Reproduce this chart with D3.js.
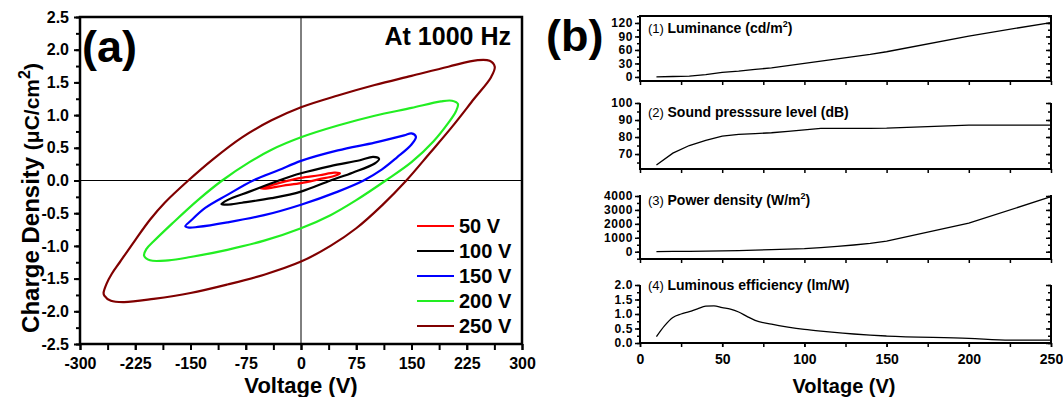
<!DOCTYPE html>
<html>
<head>
<meta charset="utf-8">
<script src="https://cdn.jsdelivr.net/npm/d3@7"></script>
<style>
  body { margin: 0; background: #fff; }
  svg { display: block; font-family: "Liberation Sans", Arial, sans-serif; }
</style>
</head>
<body>
<svg id="chart" width="1063" height="397"></svg>
<script>
// ---- panel (a): hysteresis loops, [voltage, charge density] ----
var loop50 = [[-55,-0.12],[-40,-0.07],[-20,-0.01],[0,0.04],[25,0.08],[45,0.12],[53,0.11],
  [45,0.07],[25,0.02],[0,-0.04],[-25,-0.08],[-45,-0.12]];
var loop100 = [[-108,-0.36],[-100,-0.30],[-70,-0.17],[-30,0],[0,0.11],[40,0.22],[80,0.31],[98,0.36],[106,0.33],
  [100,0.26],[70,0.12],[40,0],[0,-0.17],[-40,-0.27],[-80,-0.34],[-100,-0.37]];
var loop150 = [[-157,-0.70],[-150,-0.62],[-130,-0.42],[-100,-0.22],[-65,0],[-30,0.16],[0,0.30],[50,0.46],[100,0.58],[140,0.69],[150,0.72],[156,0.67],
  [150,0.55],[130,0.35],[110,0.17],[85,0],[50,-0.17],[0,-0.37],[-50,-0.53],[-100,-0.64],[-140,-0.71],[-152,-0.72]];
var loop200 = [[-213,-1.15],[-210,-1.05],[-200,-0.93],[-175,-0.66],[-140,-0.30],[-107,0],[-70,0.28],[-40,0.47],[0,0.66],[50,0.84],[100,0.99],[150,1.11],[190,1.21],[205,1.22],[213,1.17],
  [210,1.05],[200,0.88],[180,0.60],[150,0.28],[115,0],[75,-0.30],[40,-0.53],[0,-0.73],[-50,-0.92],[-100,-1.06],[-150,-1.17],[-180,-1.22],[-205,-1.22]];
var loop250 = [[-268,-1.72],[-264,-1.58],[-257,-1.43],[-246,-1.25],[-225,-0.91],[-205,-0.60],[-185,-0.34],[-153,0],[-120,0.32],[-80,0.66],[-40,0.92],[0,1.12],[50,1.30],[100,1.46],[150,1.60],[200,1.74],[240,1.84],[256,1.83],[263,1.74],
  [258,1.58],[235,1.25],[205,0.82],[175,0.42],[143,0],[110,-0.38],[75,-0.73],[40,-1.0],[0,-1.24],[-50,-1.44],[-100,-1.59],[-150,-1.72],[-200,-1.81],[-240,-1.86],[-258,-1.84],[-267,-1.76]];

var loops = [loop50, loop100, loop150, loop200, loop250];
var loopLabels = ["50 V", "100 V", "150 V", "200 V", "250 V"];
var loopColors = ["#ff0000", "#000000", "#0000ff", "#22ee22", "#800000"];
var aXTicks = [-300, -225, -150, -75, 0, 75, 150, 225, 300];
var aYTicks = [-2.5, -2.0, -1.5, -1.0, -0.5, 0.0, 0.5, 1.0, 1.5, 2.0, 2.5];

// ---- panel (b): device characteristics vs voltage ----
var volts = [10, 20, 30, 40, 50, 60, 70, 80, 90, 100, 110, 120, 130, 140, 150, 200, 250];
var luminance = [0, 1, 2, 5, 10, 13, 17, 20, 25, 30, 35, 40, 45, 50, 56, 91, 121];
var soundLevel = [63.5, 70.5, 75, 78, 80.5, 81.5, 82, 82.5, 83.3, 84.2, 85.1, 85.1, 85.1, 85.1, 85.2, 87, 87];
var powerDensity = [10, 20, 30, 40, 60, 80, 110, 150, 180, 220, 300, 380, 480, 600, 760, 2050, 3950];
var effVolts = [10, 15, 20, 25, 30, 35, 40, 45, 50, 55, 60, 65, 70, 80, 90, 100, 110, 120, 130, 140, 150, 200, 225, 250];
var efficiency = [0.22, 0.6, 0.88, 1.0, 1.08, 1.18, 1.27, 1.28, 1.22, 1.17, 1.07, 0.92, 0.78, 0.65, 0.55, 0.47, 0.41, 0.36, 0.31, 0.27, 0.24, 0.16, 0.1, 0.1];
var bXTicks = [0, 50, 100, 150, 200, 250];

var svg = d3.select("#chart");
var FONT = "Liberation Sans, Arial, sans-serif";
// plain hyphen for negatives, as in the picture
function fmt(spec) {
  var f = d3.format(spec);
  return function (d) { return f(d).replace("\u2212", "-"); };
}

// ================= panel (a) =================
var ax = { left: 80, right: 522, top: 17, bottom: 344 };
var xA = d3.scaleLinear().domain([-300, 300]).range([ax.left, ax.right]);
var yA = d3.scaleLinear().domain([-2.5, 2.5]).range([ax.bottom, ax.top]);

// crosshair at zero
svg.append("line").attr("x1", xA(0)).attr("x2", xA(0)).attr("y1", ax.top).attr("y2", ax.bottom)
  .attr("stroke", "#000").attr("stroke-width", 1);
svg.append("line").attr("x1", ax.left).attr("x2", ax.right).attr("y1", yA(0)).attr("y2", yA(0))
  .attr("stroke", "#000").attr("stroke-width", 1);

var loopLine = d3.line()
  .x(function (d) { return xA(d[0]); })
  .y(function (d) { return yA(d[1]); })
  .curve(d3.curveCatmullRomClosed.alpha(0.5));

svg.selectAll(".loop")
  .data(loops)
  .enter().append("path")
  .attr("class", "loop")
  .attr("d", loopLine)
  .attr("fill", "none")
  .attr("stroke", function (d, i) { return loopColors[i]; })
  .attr("stroke-width", 2.2);

// frame
svg.append("rect").attr("x", ax.left).attr("y", ax.top)
  .attr("width", ax.right - ax.left).attr("height", ax.bottom - ax.top)
  .attr("fill", "none").attr("stroke", "#000").attr("stroke-width", 2.5);

// x axis
var xAxisA = svg.append("g").attr("transform", "translate(0," + ax.bottom + ")");
xAxisA.call(d3.axisBottom(xA).tickValues(d3.range(-300, 301, 37.5)).tickSize(6).tickFormat(""));
xAxisA.append("g").call(d3.axisBottom(xA).tickValues(aXTicks).tickSize(6).tickPadding(8).tickFormat(fmt("d")));
xAxisA.selectAll(".domain").remove();
xAxisA.selectAll("line").attr("stroke-width", 2);
xAxisA.selectAll("text").attr("font-size", 16).attr("font-weight", "bold").attr("fill", "#000")
  .attr("font-family", FONT);

// y axis
var yAxisA = svg.append("g").attr("transform", "translate(" + ax.left + ",0)");
yAxisA.call(d3.axisLeft(yA).tickValues(d3.range(-2.5, 2.51, 0.25)).tickSize(4).tickFormat(""));
yAxisA.append("g").call(d3.axisLeft(yA).tickValues(aYTicks).tickSize(6).tickPadding(5).tickFormat(fmt(".1f")));
yAxisA.selectAll(".domain").remove();
yAxisA.selectAll("line").attr("stroke-width", 2);
yAxisA.selectAll("text").attr("font-size", 16).attr("font-weight", "bold").attr("fill", "#000")
  .attr("font-family", FONT);

// labels
svg.append("text").attr("x", xA(0)).attr("y", 393).attr("text-anchor", "middle")
  .attr("font-size", 22).attr("font-weight", "bold").text("Voltage (V)");

var yLab = svg.append("text").attr("transform", "translate(39," + 198 + ") rotate(-90)")
  .attr("text-anchor", "middle").attr("font-size", 24).attr("font-weight", "bold");
yLab.append("tspan").text("Charge Density ");
yLab.append("tspan").attr("font-size", 21).text("(\u03BCC/cm");
yLab.append("tspan").attr("font-size", 16).attr("dy", -9).text("2");
yLab.append("tspan").attr("font-size", 21).attr("dy", 9).text(")");

svg.append("text").attr("x", 82).attr("y", 62).attr("font-size", 45).attr("font-weight", "bold").text("(a)");
svg.append("text").attr("x", 511).attr("y", 45).attr("text-anchor", "end")
  .attr("font-size", 25).attr("font-weight", "bold").text("At 1000 Hz");

// legend
var leg = svg.selectAll(".leg").data(loopLabels).enter().append("g")
  .attr("class", "leg")
  .attr("transform", function (d, i) { return "translate(417," + (226 + i * 25) + ")"; });
leg.append("line").attr("x1", 0).attr("x2", 37).attr("y1", 0).attr("y2", 0)
  .attr("stroke", function (d, i) { return loopColors[i]; }).attr("stroke-width", 2.2);
leg.append("text").attr("x", 42).attr("y", 7).attr("font-size", 20).attr("font-weight", "bold").text(function (d) { return d; });

// ================= panel (b) =================
var bx = { left: 640, right: 1051 };
var xB = d3.scaleLinear().domain([0, 250]).range([bx.left, bx.right]);

var subplots = [
  { top: 16, bottom: 81, domain: [-9, 135.5], ticks: [0, 30, 60, 90, 120], minor: 15, x: volts, y: luminance,
    num: "(1)", title: "Luminance (cd/m", sup: "2", tail: ")", ty: 33, curve: d3.curveLinear, boxTop: true },
  { top: 103, bottom: 169, domain: [61.2, 100], ticks: [70, 80, 90, 100], minor: 5, x: volts, y: soundLevel,
    num: "(2)", title: "Sound presssure level (dB)", sup: "", tail: "", ty: 117, curve: d3.curveLinear },
  { top: 195, bottom: 259, domain: [-524, 4072], ticks: [0, 1000, 2000, 3000, 4000], minor: 500, x: volts, y: powerDensity,
    num: "(3)", title: "Power density (W/m", sup: "2", tail: ")", ty: 205, curve: d3.curveLinear },
  { top: 285, bottom: 343, domain: [0, 2], ticks: [0.0, 0.5, 1.0, 1.5, 2.0], minor: 0.25, x: effVolts, y: efficiency,
    num: "(4)", title: "Luminous efficiency (lm/W)", sup: "", tail: "", ty: 290, curve: d3.curveMonotoneX, fmt: ".1f" }
];

subplots.forEach(function (s, k) {
  var y = d3.scaleLinear().domain(s.domain).range([s.bottom, s.top]);
  var g = svg.append("g");
  var minorVals = d3.range(Math.ceil(s.domain[0] / s.minor) * s.minor, s.domain[1] + 1e-9, s.minor);

  // y axis left (outward) and right (inward)
  var yl = g.append("g").attr("transform", "translate(" + bx.left + ",0)");
  yl.call(d3.axisLeft(y).tickValues(minorVals).tickSize(3).tickFormat(""));
  yl.append("g").call(d3.axisLeft(y).tickValues(s.ticks).tickSize(5).tickPadding(2)
    .tickFormat(fmt(s.fmt || "d")));
  var yr = g.append("g").attr("transform", "translate(" + bx.right + ",0)");
  yr.call(d3.axisRight(y).tickValues(minorVals).tickSize(-3).tickFormat(""));
  yr.append("g").call(d3.axisRight(y).tickValues(s.ticks).tickSize(-5).tickFormat(""));

  // x axis ticks
  var xg = g.append("g").attr("transform", "translate(0," + s.bottom + ")");
  xg.call(d3.axisBottom(xB).tickValues(d3.range(0, 251, 25)).tickSize(4).tickFormat(""));
  if (k === subplots.length - 1) {
    xg.append("g").call(d3.axisBottom(xB).tickValues(bXTicks).tickSize(4).tickPadding(7).tickFormat(fmt("d")));
  }
  g.selectAll(".domain").remove();
  g.selectAll(".tick line").attr("stroke-width", 1.5);
  g.selectAll("text").attr("font-size", 12).attr("font-weight", "bold").attr("fill", "#000")
    .attr("letter-spacing", 0.6).attr("font-family", FONT);
  xg.selectAll("text").attr("font-size", 14).attr("letter-spacing", 0);

  // frame: only the first panel is closed on top
  var frame = s.boxTop
    ? "M" + bx.left + "," + s.top + "H" + bx.right + "V" + s.bottom + "H" + bx.left + "Z"
    : "M" + bx.left + "," + s.top + "V" + s.bottom + "H" + bx.right + "V" + s.top;
  g.append("path").attr("d", frame)
    .attr("fill", "none").attr("stroke", "#000").attr("stroke-width", 2);

  var line = d3.line()
    .x(function (d, i) { return xB(s.x[i]); })
    .y(function (d) { return y(d); })
    .curve(s.curve);
  g.append("path").datum(s.y).attr("d", line)
    .attr("fill", "none").attr("stroke", "#000").attr("stroke-width", 1.3);

  var t = g.append("text").attr("x", 648).attr("y", s.ty).attr("font-size", 14);
  t.append("tspan").attr("font-size", 13).text(s.num + " ");
  t.append("tspan").attr("font-weight", "bold").text(s.title);
  if (s.sup) {
    t.append("tspan").attr("font-size", 9).attr("dy", -6).attr("font-weight", "bold").text(s.sup);
    t.append("tspan").attr("dy", 6).attr("font-weight", "bold").text(s.tail);
  }
});

svg.append("text").attr("x", 844).attr("y", 393).attr("text-anchor", "middle")
  .attr("font-size", 20).attr("font-weight", "bold").text("Voltage (V)");
svg.append("text").attr("x", 546).attr("y", 51).attr("font-size", 45).attr("font-weight", "bold").text("(b)");
</script>
</body>
</html>
